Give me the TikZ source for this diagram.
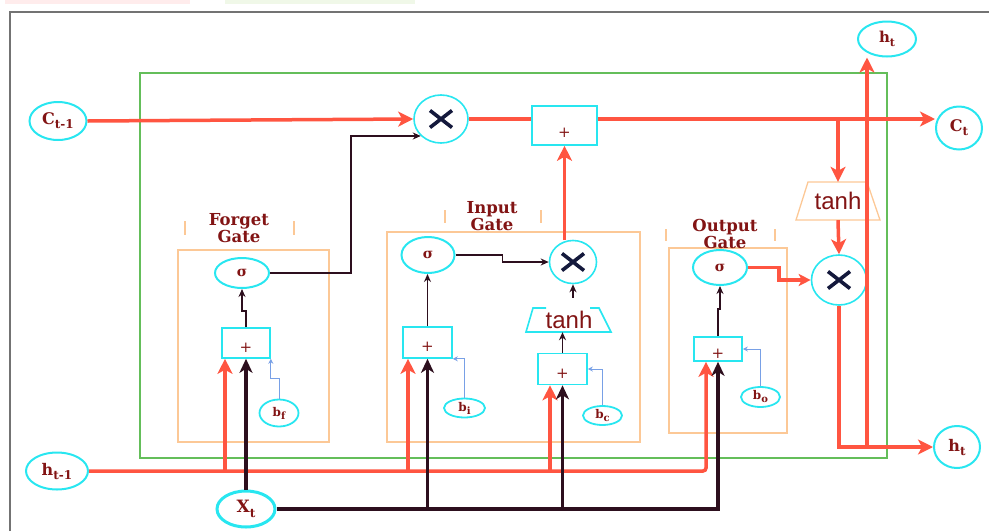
\documentclass[tikz,border=0pt]{standalone}
\usepackage{fontspec}
\setmainfont{DejaVu Serif}
\newfontfamily\tanhfam{Liberation Sans}
\usetikzlibrary{arrows.meta,shapes.geometric}
\definecolor{redc}{RGB}{255,85,65}
\definecolor{darkc}{RGB}{45,15,30}
\definecolor{cyanc}{RGB}{40,230,240}
\definecolor{orangec}{RGB}{252,200,150}
\definecolor{greenc}{RGB}{100,190,90}
\definecolor{textc}{RGB}{130,20,20}
\definecolor{navyc}{RGB}{20,25,60}
\definecolor{bluec}{RGB}{120,160,230}
\definecolor{framec}{RGB}{115,115,115}
\definecolor{pinkc}{RGB}{255,236,236}
\definecolor{lgreenc}{RGB}{240,248,232}
\newcommand\sbx[4]{{\fontsize{#1}{#1}\selectfont\bfseries #3\raisebox{-0.25em}{\fontsize{#2}{#2}\selectfont\bfseries #4}}}
\newcommand\pl[1]{\smash{\raisebox{#1}{\fontsize{15}{15}\selectfont +}}}
\newcommand\sg{{\fontsize{14}{14}\selectfont\bfseries σ}}
\begin{document}
\begin{tikzpicture}[x=1pt,y=-1pt,
  lab/.style={ellipse, draw=cyanc, line width=2pt, inner sep=0pt, text=textc},
  mulnode/.style={ellipse, draw=cyanc, line width=1.6pt, inner sep=0pt,
    path picture={\draw[navyc, line width=3.6pt]
      ([shift={(-11pt,-8.5pt)}]path picture bounding box.center) -- ([shift={(11pt,8.5pt)}]path picture bounding box.center)
      ([shift={(-11pt,8.5pt)}]path picture bounding box.center) -- ([shift={(11pt,-8.5pt)}]path picture bounding box.center);}},
  addbox/.style={rectangle, draw=cyanc, line width=1.6pt, inner sep=0pt, text=textc},
  gbox/.style={draw=orangec, line width=1.3pt},
  gtick/.style={draw=orangec, line width=1.3pt},
  glabel/.style={align=center, text=textc, inner sep=0pt, font=\fontsize{16.5}{17}\selectfont\bfseries},
  tanhnode/.style={inner sep=0pt, text=textc, font=\tanhfam\fontsize{24}{24}\selectfont},
  redarr/.style={draw=redc, line width=3.5pt, -{Stealth[length=15pt,width=15pt,inset=4pt]}},
  redln/.style={draw=redc, line width=3.5pt},
  darkarr/.style={draw=darkc, line width=3.5pt, -{Stealth[length=14pt,width=13pt,inset=4pt]}},
  darkthin/.style={draw=darkc, line width=1.8pt, -{Stealth[length=8pt,width=7pt]}},
  bluearr/.style={draw=bluec, line width=0.9pt, -{Stealth[length=5pt,width=5pt]}}
]
\useasboundingbox (0,0) rectangle (989,531);
\fill[pinkc] (5,0) rectangle (190,4);
\fill[lgreenc] (225,0) rectangle (415,4);
\draw[framec, line width=2pt] (10,531) -- (10,12) -- (989,12);
\draw[greenc, line width=1.5pt] (140,73) rectangle (887,458);

% gate boxes and labels
\draw[gbox] (178,250) rectangle (329,442);
\draw[gbox] (387,232) rectangle (640,442);
\draw[gbox] (669,248) rectangle (787,433);
\draw[gtick] (185,221) -- (185,235) (294,221) -- (294,235);
\draw[gtick] (445,210) -- (445,223) (541,210) -- (541,223);
\draw[gtick] (666,229) -- (666,241) (775,229) -- (775,241);
\node[glabel] (fgl) at (239,228) {Forget\\Gate};
\node[glabel] (igl) at (492,216) {Input\\Gate};
\node[glabel] (ogl) at (725,234) {Output\\Gate};

% nodes
\node[lab, minimum width=57pt, minimum height=38pt] (Ct1) at (58,121) {\sbx{16}{12}{C}{t-1}};
\node[mulnode, minimum width=54pt, minimum height=48pt] (fmul) at (441,119) {};
\node[addbox, minimum width=65pt, minimum height=39pt] (add) at (564.5,125.5) {\pl{-11.5pt}};
\node[lab, minimum width=46pt, minimum height=43pt] (Ct) at (959,128) {\sbx{16}{12}{C}{t}};
\node[lab, minimum width=58pt, minimum height=35pt] (htop) at (887,39) {\sbx{15}{11}{h}{t}};
\node[lab, minimum width=46pt, minimum height=42pt] (hbot) at (957,447) {\sbx{16}{12}{h}{t}};
\node[lab, minimum width=62pt, minimum height=37pt] (ht1) at (57,471) {\sbx{16}{12}{h}{t-1}};
\node[lab, line width=3pt, minimum width=58pt, minimum height=36pt] (Xt) at (246,509) {\sbx{17}{12}{X}{t}};
\node[lab, minimum width=54pt, minimum height=30pt] (fsig) at (242,273) {\sg};
\node[addbox, minimum width=48pt, minimum height=30pt] (fadd) at (246,343) {\pl{-9pt}};
\node[lab, line width=1.8pt, minimum width=39pt, minimum height=27pt] (bf) at (279,413) {\sbx{12}{10}{b}{f}};
\node[lab, minimum width=53pt, minimum height=36pt] (isig) at (428,255) {\sg};
\node[mulnode, minimum width=47pt, minimum height=43pt] (imul) at (573,262) {};
\node[addbox, minimum width=49pt, minimum height=31pt] (iadd) at (427.5,342.5) {\pl{-9pt}};
\node[lab, line width=1.8pt, minimum width=41pt, minimum height=19pt] (bi) at (464.5,408) {\sbx{12}{10}{b}{i}};
\node[addbox, minimum width=49pt, minimum height=31pt] (cadd) at (562.5,369) {\pl{-9pt}};
\draw[cyanc, line width=1.6pt] (546,308) -- (533,308) -- (526,332) -- (611,332) -- (599,308) -- (590,308);
\node[tanhnode, minimum width=84pt, minimum height=24pt] (itanh) at (569,320) {tanh};
\node[lab, line width=1.8pt, minimum width=39pt, minimum height=19pt] (bc) at (602.5,415.5) {\sbx{12}{10}{b}{c}};
\node[lab, minimum width=54pt, minimum height=35pt] (osig) at (720,267.5) {\sg};
\node[mulnode, minimum width=55pt, minimum height=50pt] (omul) at (839,280) {};
\node[addbox, minimum width=48pt, minimum height=24pt] (oadd) at (718,349) {\pl{-9pt}};
\node[lab, line width=1.8pt, minimum width=39pt, minimum height=20pt] (bo) at (760.5,397) {\sbx{12}{10}{b}{o}};
\draw[orangec, line width=1.3pt] (808,182) -- (867,182) -- (880,220) -- (796,220) -- cycle;
\node[tanhnode, minimum width=84pt, minimum height=38pt] (otanh) at (838,201) {tanh};

% cell state line
\draw[redarr] (Ct1.east) -- (fmul.west);
\draw[redln] (fmul.east) -- (add.west |- fmul.east);
\draw[redarr] (add.east |- fmul.east) -- (Ct.west |- fmul.east);
\coordinate (cb) at (838,121);
\draw[redarr] (cb) -- (otanh.north);
\draw[redarr] (otanh.south) -- (omul.north);
\draw[redarr] (omul.south) |- (hbot.west);
\coordinate (jt) at (867,447);
\draw[redarr] (jt) -- (jt |- htop.south);
\draw[redarr] (imul.north -| add.south) -- (add.south);

% h_{t-1} line
\draw[redarr, rounded corners=3pt] (ht1.east) -| ([xshift=-12pt]oadd.south);
\coordinate (hj1) at (225,471);
\coordinate (hj2) at (408,471);
\coordinate (hj3) at (550,471);
\draw[redarr] (hj1) -- (hj1 |- fadd.south);
\draw[redarr] (hj2) -- (hj2 |- iadd.south);
\draw[redarr] (hj3) -- (hj3 |- cadd.south);

% x_t line
\draw[darkarr] (Xt.north) -- (fadd.south);
\draw[darkarr] (Xt.east) -| (oadd.south);
\coordinate (xj1) at (iadd.south |- Xt.east);
\coordinate (xj2) at (cadd.south |- Xt.east);
\draw[darkarr] (xj1) -- (iadd.south);
\draw[darkarr] (xj2) -- (cadd.south);

% inner connectors
\draw[darkthin] (fadd.north) -- ++(0,-16) -| (fsig.south);
\draw[darkthin] (fsig.east) -| ([xshift=-70pt]fmul.-140) -- (fmul.-140);
\draw[darkthin] (iadd.north) -- (iadd.north |- isig.south);
\draw[darkthin] (isig.east) -- ++(47,0) |- (imul.west);
\draw[darkthin] (cadd.north) -- (cadd.north |- itanh.south);
\draw[darkthin] ([yshift=10pt]imul.south |- itanh.north) -- (imul.south);
\draw[darkthin] (oadd.north) -- ++(0,-27) -| (osig.south);
\draw[redarr, -{Stealth[length=12pt,width=12pt,inset=3pt]}] (osig.east) -- ++(31,0) |- (omul.west);

% biases
\draw[bluearr] (bf.north) -- ++(0,-20) -| (fadd.south east);
\draw[bluearr] (bi.north) |- (iadd.south east);
\draw[bluearr] (bc.north) |- (cadd.east);
\draw[bluearr] (bo.north) |- (oadd.east);
\end{tikzpicture}
\end{document}
